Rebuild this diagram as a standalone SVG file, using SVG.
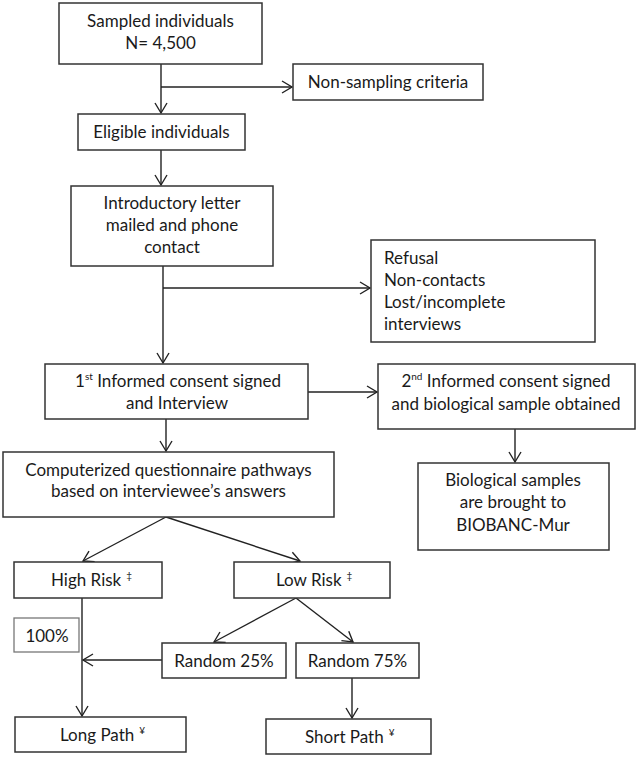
<svg xmlns="http://www.w3.org/2000/svg" width="637" height="757" viewBox="0 0 637 757">
<style>
.box{fill:#fff;stroke:#333;stroke-width:1.5}
.box2{fill:#fff;stroke:#777;stroke-width:1.3}
text{font-family:Lato,"Liberation Sans",sans-serif;font-size:17px;fill:#1a1a1a}
.c{text-anchor:middle}
.sup{font-size:10px}
.con{fill:none;stroke:#222;stroke-width:1.4;marker-end:url(#arr)}
</style>
<defs>
<marker id="arr" markerUnits="userSpaceOnUse" markerWidth="16" markerHeight="16" viewBox="-12 -8 14 16" refX="0" refY="0" orient="auto">
<path d="M-10,-6 L0,0 L-10,6" fill="none" stroke="#222" stroke-width="1.4"/>
</marker>
</defs>
<rect width="637" height="757" fill="#fff"/>
<g id="connectors">
<path class="con" d="M161,64 V113"/>
<path class="con" d="M161,87 H292"/>
<path class="con" d="M161,150 V185"/>
<path class="con" d="M163,266 V363"/>
<path class="con" d="M163,288 H370"/>
<path class="con" d="M308,392 H377"/>
<path class="con" d="M166,419 V451"/>
<path class="con" d="M515,429 V462"/>
<path class="con" d="M166,517 L83,561"/>
<path class="con" d="M166,517 L300,561"/>
<path class="con" d="M296,598 L214,642"/>
<path class="con" d="M296,598 L353,642"/>
<path class="con" d="M82,598 V716"/>
<path class="con" d="M162,660 H83"/>
<path class="con" d="M352,678 V718"/>
</g>
<g id="sampled">
<rect class="box" x="59" y="3" width="203" height="61"/>
<text class="c" x="160.5" y="27">Sampled individuals</text>
<text class="c" x="160.5" y="49">N= 4,500</text>
</g>
<g id="nonsampling">
<rect class="box" x="293" y="64" width="190" height="36"/>
<text class="c" x="388" y="88">Non-sampling criteria</text>
</g>
<g id="eligible">
<rect class="box" x="78" y="114" width="167" height="36"/>
<text class="c" x="161.5" y="138">Eligible individuals</text>
</g>
<g id="intro">
<rect class="box" x="71" y="186" width="202" height="80"/>
<text class="c" x="172" y="209">Introductory letter</text>
<text class="c" x="172" y="231">mailed and phone</text>
<text class="c" x="172" y="253">contact</text>
</g>
<g id="refusal">
<rect class="box" x="371" y="240" width="224" height="102"/>
<text x="384" y="264">Refusal</text>
<text x="384" y="286">Non-contacts</text>
<text x="384" y="308">Lost/incomplete</text>
<text x="384" y="330">interviews</text>
</g>
<g id="consent1">
<rect class="box" x="45" y="364" width="263" height="55"/>
<text class="c" x="178" y="387">1<tspan class="sup" dy="-7">st</tspan><tspan dy="7"> Informed consent signed</tspan></text>
<text class="c" x="177" y="409">and Interview</text>
</g>
<g id="consent2">
<rect class="box" x="378" y="364" width="257" height="65"/>
<text class="c" x="506" y="387">2<tspan class="sup" dy="-7">nd</tspan><tspan dy="7"> Informed consent signed</tspan></text>
<text class="c" x="506" y="410">and biological sample obtained</text>
</g>
<g id="computerized">
<rect class="box" x="3" y="452" width="331" height="65"/>
<text class="c" x="168.5" y="476">Computerized questionnaire pathways</text>
<text class="c" x="168.5" y="497">based on interviewee’s answers</text>
</g>
<g id="biological">
<rect class="box" x="418" y="463" width="191" height="87"/>
<text class="c" x="513" y="486">Biological samples</text>
<text class="c" x="513" y="508">are brought to</text>
<text class="c" x="513" y="531">BIOBANC-Mur</text>
</g>
<g id="highrisk">
<rect class="box" x="14" y="562" width="148" height="36"/>
<text x="51" y="586">High Risk<tspan class="sup" dx="5" dy="-7">‡</tspan></text>
</g>
<g id="lowrisk">
<rect class="box" x="234" y="562" width="156" height="36"/>
<text x="276" y="586">Low Risk<tspan class="sup" dx="5" dy="-7">‡</tspan></text>
</g>
<g id="pct100">
<rect class="box2" x="14" y="618" width="65" height="34"/>
<text class="c" x="47" y="642">100%</text>
</g>
<g id="random25">
<rect class="box" x="162" y="643" width="124" height="35"/>
<text class="c" x="224" y="667">Random 25%</text>
</g>
<g id="random75">
<rect class="box" x="296" y="643" width="123" height="35"/>
<text class="c" x="357.5" y="667">Random 75%</text>
</g>
<g id="longpath">
<rect class="box" x="15" y="717" width="171" height="35"/>
<text x="60" y="741">Long Path<tspan class="sup" dx="5" dy="-7">¥</tspan></text>
</g>
<g id="shortpath">
<rect class="box" x="266" y="719" width="165" height="35"/>
<text x="305" y="743">Short Path<tspan class="sup" dx="5" dy="-7">¥</tspan></text>
</g>
</svg>
